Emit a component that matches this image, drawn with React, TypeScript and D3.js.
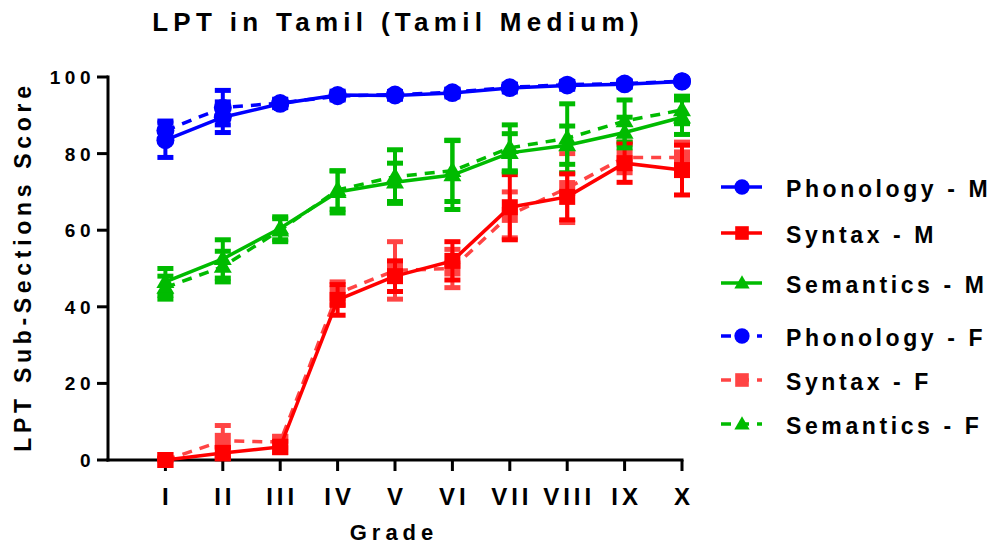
import React, { useRef, useEffect } from "react";
import * as d3 from "d3";

// grade categories and y ticks
const grades = ["I", "II", "III", "IV", "V", "VI", "VII", "VIII", "IX", "X"];
const yTicks = [0, 20, 40, 60, 80, 100];

// mean scores and their error bars
const phonologyM = [83.5, 89.5, 93, 95.3, 95.2, 95.8, 97.1, 97.8, 98.1, 98.8];
const phonologyMErr = [4.5, 4, 1, 1, 1, 1, 1, 1, 0.8, 0.6];
const syntaxM = [0, 1.8, 3.4, 41.8, 48, 52, 66, 68.7, 77.5, 75.7];
const syntaxMErr = [0.5, 1.5, 1.5, 4, 4, 5, 8.5, 6, 5, 6.5];
const semanticsM = [46.5, 52.5, 60.5, 70, 72.5, 74.4, 80.2, 82.2, 85.5, 89.5];
const semanticsMErr = [3.5, 5, 3, 5.5, 5, 9, 5, 5, 4, 4.5];

const phonologyF = [86, 92, 93.2, 95, 95.4, 96, 97.3, 98, 98.3, 98.9];
const phonologyFErr = [2.5, 4.5, 1, 1, 0.8, 0.8, 0.8, 0.8, 0.7, 0.6];
const syntaxF = [0, 5, 4.7, 43.5, 49.5, 50, 64, 71, 79, 79];
const syntaxFErr = [0.5, 4, 1.5, 3, 7.5, 5, 6, 9, 4, 4];
const semanticsF = [45, 50.5, 60, 70.5, 74, 75.5, 81.5, 84, 88.5, 91.4];
const semanticsFErr = [3, 4, 3, 5, 7, 8, 6, 9, 5.5, 3.6];

const BLUE = "#0000ff";
const RED = "#ff0000";
const RED_F = "#ff4444";
const GREEN = "#00bb00";
const FONT = "'Liberation Sans', Arial, Helvetica, sans-serif";

const series = [
  { name: "Phonology - M", values: phonologyM, errors: phonologyMErr, color: BLUE, symbol: "circle", dashed: false },
  { name: "Syntax - M", values: syntaxM, errors: syntaxMErr, color: RED, symbol: "square", dashed: false },
  { name: "Semantics - M", values: semanticsM, errors: semanticsMErr, color: GREEN, symbol: "triangle", dashed: false },
  { name: "Phonology - F", values: phonologyF, errors: phonologyFErr, color: BLUE, symbol: "circle", dashed: true },
  { name: "Syntax - F", values: syntaxF, errors: syntaxFErr, color: RED_F, symbol: "square", dashed: true },
  { name: "Semantics - F", values: semanticsF, errors: semanticsFErr, color: GREEN, symbol: "triangle", dashed: true },
];

const drawSymbol = (g, kind, cx, cy, color, scale = 1) => {
  if (kind === "circle") {
    g.append("circle").attr("cx", cx).attr("cy", cy).attr("r", 9 * scale).attr("fill", color);
  } else if (kind === "square") {
    const s = 16 * scale;
    g.append("rect").attr("x", cx - s / 2).attr("y", cy - s / 2).attr("width", s).attr("height", s).attr("fill", color);
  } else {
    g.append("path")
      .attr("d", d3.symbol(d3.symbolTriangle, 140 * scale * scale)())
      .attr("transform", `translate(${cx},${cy + 1})`)
      .attr("fill", color);
  }
};

const App = () => {
  const svgRef = useRef(null);

  useEffect(() => {
    const width = 997;
    const height = 546;
    const margins = { left: 108, right: 315, top: 77, bottom: 86 };

    const svg = d3.select(svgRef.current).attr("width", width).attr("height", height);
    svg.selectAll("*").remove();

    // scales: grade index 1..10, with an empty slot at 0
    const xScale = d3.scaleLinear().domain([0, grades.length]).range([margins.left, width - margins.right]);
    const yScale = d3.scaleLinear().domain([0, 100]).range([height - margins.bottom, margins.top]);

    const x0 = xScale(0);
    const y0 = yScale(0);

    // title
    svg
      .append("text")
      .attr("x", (margins.left + width - margins.right) / 2 + 3)
      .attr("y", 31)
      .attr("text-anchor", "middle")
      .style("font-family", FONT)
      .style("font-weight", "bold")
      .style("font-size", "26px")
      .style("letter-spacing", "5.3px")
      .text("LPT in Tamil (Tamil Medium)");

    // y axis
    const yAxis = svg.append("g").attr("class", "yAxis");
    yAxis
      .append("line")
      .attr("x1", x0)
      .attr("x2", x0)
      .attr("y1", yScale(100) - 1.5)
      .attr("y2", y0 + 1.5)
      .attr("stroke", "black")
      .attr("stroke-width", 3);
    yTicks.forEach((t) => {
      yAxis
        .append("line")
        .attr("x1", x0 - 11)
        .attr("x2", x0)
        .attr("y1", yScale(t))
        .attr("y2", yScale(t))
        .attr("stroke", "black")
        .attr("stroke-width", 3);
      yAxis
        .append("text")
        .attr("x", x0 - 13)
        .attr("y", yScale(t) + 7)
        .attr("text-anchor", "end")
        .style("font-family", FONT)
        .style("font-weight", "bold")
        .style("font-size", "19px")
        .style("letter-spacing", "4.5px")
        .text(t);
    });

    svg
      .append("text")
      .attr("transform", `translate(31, ${(yScale(0) + yScale(100)) / 2}) rotate(-90)`)
      .attr("text-anchor", "middle")
      .attr("dx", 2)
      .style("font-family", FONT)
      .style("font-weight", "bold")
      .style("font-size", "23px")
      .style("letter-spacing", "4.7px")
      .text("LPT Sub-Sections Score");

    // x axis
    const xAxis = svg.append("g").attr("class", "xAxis");
    xAxis
      .append("line")
      .attr("x1", x0 - 1.5)
      .attr("x2", xScale(grades.length) + 1.5)
      .attr("y1", y0)
      .attr("y2", y0)
      .attr("stroke", "black")
      .attr("stroke-width", 3);
    grades.forEach((g, i) => {
      const gx = xScale(i + 1);
      xAxis
        .append("line")
        .attr("x1", gx)
        .attr("x2", gx)
        .attr("y1", y0)
        .attr("y2", y0 + 11)
        .attr("stroke", "black")
        .attr("stroke-width", 3);
      xAxis
        .append("text")
        .attr("x", gx + 2)
        .attr("y", 505)
        .attr("text-anchor", "middle")
        .style("font-family", FONT)
        .style("font-weight", "bold")
        .style("font-size", "24px")
        .style("letter-spacing", "4px")
        .text(g);
    });

    svg
      .append("text")
      .attr("x", (margins.left + width - margins.right) / 2 - 1)
      .attr("y", 540)
      .attr("text-anchor", "middle")
      .style("font-family", FONT)
      .style("font-weight", "bold")
      .style("font-size", "22px")
      .style("letter-spacing", "5px")
      .text("Grade");

    // data: female (dashed) series first so the male series sit on top
    const drawOrder = [...series.filter((s) => s.dashed), ...series.filter((s) => !s.dashed)];
    const lineGenerator = d3
      .line()
      .x((d) => xScale(d[0]))
      .y((d) => yScale(d[1]));

    drawOrder.forEach((s) => {
      const g = svg.append("g").attr("class", "series");
      const pts = s.values.map((v, i) => [i + 1, v]);

      // error bars
      s.values.forEach((v, i) => {
        const cx = xScale(i + 1);
        const top = yScale(v + s.errors[i]);
        const bot = yScale(Math.max(0, v - s.errors[i]));
        g.append("line").attr("x1", cx).attr("x2", cx).attr("y1", top).attr("y2", bot)
          .attr("stroke", s.color).attr("stroke-width", 4);
        [top, bot].forEach((yy) => {
          g.append("line").attr("x1", cx - 8).attr("x2", cx + 8).attr("y1", yy).attr("y2", yy)
            .attr("stroke", s.color).attr("stroke-width", 5);
        });
      });

      g.append("path")
        .datum(pts)
        .attr("d", lineGenerator)
        .attr("fill", "none")
        .attr("stroke", s.color)
        .attr("stroke-width", 3.5)
        .attr("stroke-dasharray", s.dashed ? "10,8" : null);

      pts.forEach((p) => drawSymbol(g, s.symbol, xScale(p[0]), yScale(p[1]), s.color));
    });

    // legend
    const legendRows = [187, 233, 283, 336, 380, 424];
    const legend = svg.append("g").attr("class", "legend");
    series.forEach((s, i) => {
      const ly = legendRows[i];
      legend
        .append("line")
        .attr("x1", 721)
        .attr("x2", 762)
        .attr("y1", ly)
        .attr("y2", ly)
        .attr("stroke", s.color)
        .attr("stroke-width", 3.5)
        .attr("stroke-dasharray", s.dashed ? "10,8" : null);
      drawSymbol(legend, s.symbol, 742, ly, s.color, 0.85);
      legend
        .append("text")
        .attr("x", 786)
        .attr("y", ly + 10)
        .style("font-family", FONT)
        .style("font-weight", "bold")
        .style("font-size", "23px")
        .style("letter-spacing", "3.6px")
        .text(s.name);
    });
  }, []);

  return (
    <div style={{ position: "absolute", left: 0, top: 0 }}>
      <svg ref={svgRef} style={{ display: "block", background: "white" }} />
    </div>
  );
};

export default App;
